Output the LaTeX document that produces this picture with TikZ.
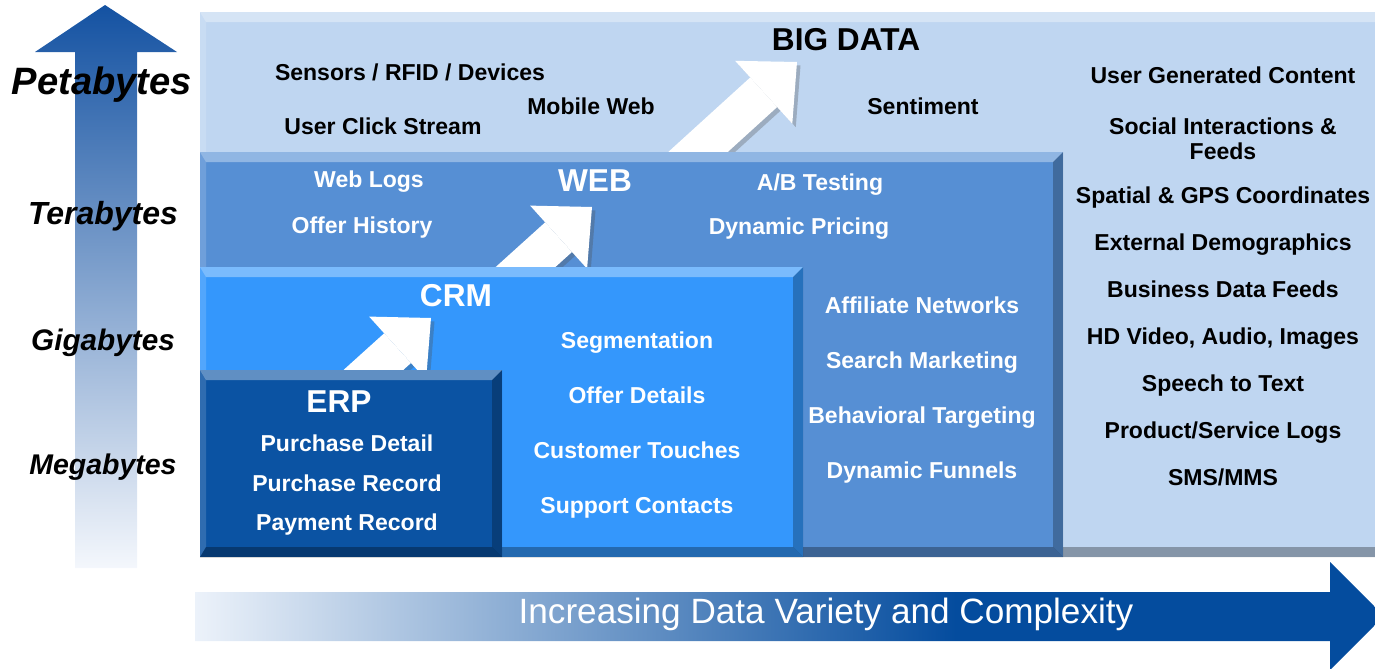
\documentclass[tikz,border=0pt]{standalone}
\usepackage{fontspec}
\setmainfont{Liberation Sans}
\usetikzlibrary{arrows.meta}
\usetikzlibrary{positioning}
\usetikzlibrary{fit}
\definecolor{bigblue}{RGB}{191,214,241}
\definecolor{webblue}{RGB}{86,143,212}
\definecolor{crmblue}{RGB}{52,151,252}
\definecolor{erpblue}{RGB}{11,83,163}
\definecolor{axisblue}{RGB}{20,82,162}
\definecolor{axislight}{RGB}{244,247,252}
\definecolor{barblue}{RGB}{4,76,158}
\definecolor{barlight}{RGB}{236,242,250}
\pgfdeclarehorizontalshading{barshade}{100bp}{color(0bp)=(barlight); color(25bp)=(barlight);
  color(57bp)=(barblue); color(100bp)=(barblue)}
\tikzset{
    layer/.style={
           rectangle,
           inner sep=0pt, outer sep=0pt,
           fill=#1,
           path picture={
             \path (path picture bounding box.north west) coordinate (pnw)
                   (path picture bounding box.north east) coordinate (pne)
                   (path picture bounding box.south west) coordinate (psw)
                   (path picture bounding box.south east) coordinate (pse);
             % light top and left edge
             \fill[white, opacity=.35] (pnw) -- (pne) -- ([shift={(-2mm,-2mm)}]pne)
                  -- ([shift={(1.2mm,-2mm)}]pnw) -- cycle;
             \fill[white, opacity=.15] (pnw) -- ([shift={(1.2mm,-2mm)}]pnw)
                  -- ([shift={(1.2mm,2mm)}]psw) -- (psw) -- cycle;
             % dark right and bottom edge
             \fill[black, opacity=.25] (pne) -- (pse) -- ([shift={(-2mm,2mm)}]pse)
                  -- ([shift={(-2mm,-2mm)}]pne) -- cycle;
             \fill[black, opacity=.3] (psw) -- (pse) -- ([shift={(-2mm,2mm)}]pse)
                  -- ([shift={(1.2mm,2mm)}]psw) -- cycle;
           },
           },
     item/.style={
           font=\bfseries\fontsize{13.1}{14.4}\selectfont,
           align=center,
           inner sep=0pt,
           text height=1.6ex, text depth=.4ex,
           on grid,
           },
     darkitem/.style={item, text=black},
     lightitem/.style={item, text=white},
     layertitle/.style={
           font=\bfseries\fontsize{18}{20}\selectfont,
           inner sep=0pt,
           },
     scalelabel/.style={
           font=\bfseries\itshape\fontsize{#1}{#1}\selectfont,
           text=black,
           inner sep=0pt,
           },
     growarrow/.style={
           line width=8mm, draw=white,
           -{Triangle[length=9mm 0 0, width=17mm 0 0, line width=0pt 0 0]},
           },
     growshadow/.style={
           growarrow, draw=black!70, opacity=.3,
           transform canvas={shift={(0.7mm,-0.7mm)}},
           },
}

\begin{document}
\begin{tikzpicture}[x=0.2mm, y=-0.2mm]
	\useasboundingbox (0,0) rectangle (1375,669);
	\clip (0,0) rectangle (1375,669);

	% vertical axis: data volume
	\shade[top color=axisblue, bottom color=axislight]
		(105,5) -- (177,52) -- (137,52) -- (137,568) -- (75,568)
		-- (75,52) -- (35,52) -- cycle;
	\node[scalelabel=21.7] (peta) at (102,85) {Petabytes};
	\node[scalelabel=18.2] (tera) at (103,216) {Terabytes};
	\node[scalelabel=16.9] (giga) at (103,343) {Gigabytes};
	\node[scalelabel=16.2] (mega) at (103,467) {Megabytes};

	% big data layer
	\node[layer=bigblue, fit={(200,12) (1400,557)}] (big) {};
	\node[layertitle, text=black] (bigtitle) at (846,40) {BIG DATA};
	\node[darkitem] (sensors) at (410,75) {Sensors / RFID / Devices};
	\node[darkitem] (mobile) at (591,109) {Mobile Web};
	\node[darkitem] (click) at (383,129) {User Click Stream};
	\node[darkitem] (senti) at (923,109) {Sentiment};
	\node[darkitem] (ugc) at (1223,78) {User Generated Content};
	\node[darkitem, text height=, text depth=, below=12.1mm of ugc] (social)
		{Social Interactions \&\\Feeds};
	\node[darkitem, below=11.9mm of social] (gps) {Spatial \& GPS Coordinates};
	\node[darkitem, below=9.4mm of gps] (demo) {External Demographics};
	\node[darkitem, below=9.4mm of demo] (feeds) {Business Data Feeds};
	\node[darkitem, below=9.4mm of feeds] (video) {HD Video, Audio, Images};
	\node[darkitem, below=9.4mm of video] (speech) {Speech to Text};
	\node[darkitem, below=9.4mm of speech] (logs) {Product/Service Logs};
	\node[darkitem, below=9.4mm of logs] (sms) {SMS/MMS};

	\coordinate (webtail) at (665,182);
	\coordinate (bigtip) at (797,62);
	\draw[growshadow] (webtail) -- (bigtip);
	\draw[growarrow] (webtail) -- (bigtip);

	% web layer
	\node[layer=webblue, fit={(200,152) (1063,557)}] (web) {};
	\node[layertitle, text=white] (webtitle) at (595,181) {WEB};
	\node[lightitem] (weblogs) at (369,182) {Web Logs};
	\node[lightitem] (history) at (362,228) {Offer History};
	\node[lightitem] (abtest) at (820,185) {A/B Testing};
	\node[lightitem] (pricing) at (799,229) {Dynamic Pricing};
	\node[lightitem] (affil) at (922,308) {Affiliate Networks};
	\node[lightitem, below=11mm of affil] (search) {Search Marketing};
	\node[lightitem, below=11mm of search] (behav) {Behavioral Targeting};
	\node[lightitem, below=11mm of behav] (funnel) {Dynamic Funnels};

	\coordinate (crmtail) at (458,328);
	\coordinate (webtip) at (592,207);
	\draw[growshadow] (crmtail) -- (webtip);
	\draw[growarrow] (crmtail) -- (webtip);

	% crm layer
	\node[layer=crmblue, fit={(200,267) (803,557)}] (crm) {};
	\node[layertitle, text=white] (crmtitle) at (456,296) {CRM};
	\node[lightitem] (segment) at (637,343) {Segmentation};
	\node[lightitem, below=11mm of segment] (details) {Offer Details};
	\node[lightitem, below=11mm of details] (touches) {Customer Touches};
	\node[lightitem, below=11mm of touches] (support) {Support Contacts};

	\coordinate (erptail) at (298,438);
	\coordinate (crmtip) at (431,318);
	\draw[growshadow] (erptail) -- (crmtip);
	\draw[growarrow] (erptail) -- (crmtip);

	% erp layer
	\node[layer=erpblue, fit={(200,370) (502,557)}] (erp) {};
	\node[layertitle, text=white] (erptitle) at (339,402) {ERP};
	\node[lightitem] (pdetail) at (347,446) {Purchase Detail};
	\node[lightitem, below=8mm of pdetail] (precord) {Purchase Record};
	\node[lightitem, below=7.8mm of precord] (payment) {Payment Record};

	% horizontal axis: data variety
	\shade[shading=barshade] (195,592) -- (1330,592) -- (1330,562) -- (1384,616)
		-- (1330,670) -- (1330,641) -- (195,641) -- cycle;
	\node[font=\fontsize{20}{22}\selectfont, text=white, inner sep=0pt] (variety)
		at (826,614) {Increasing Data Variety and Complexity};
\end{tikzpicture}
\end{document}
